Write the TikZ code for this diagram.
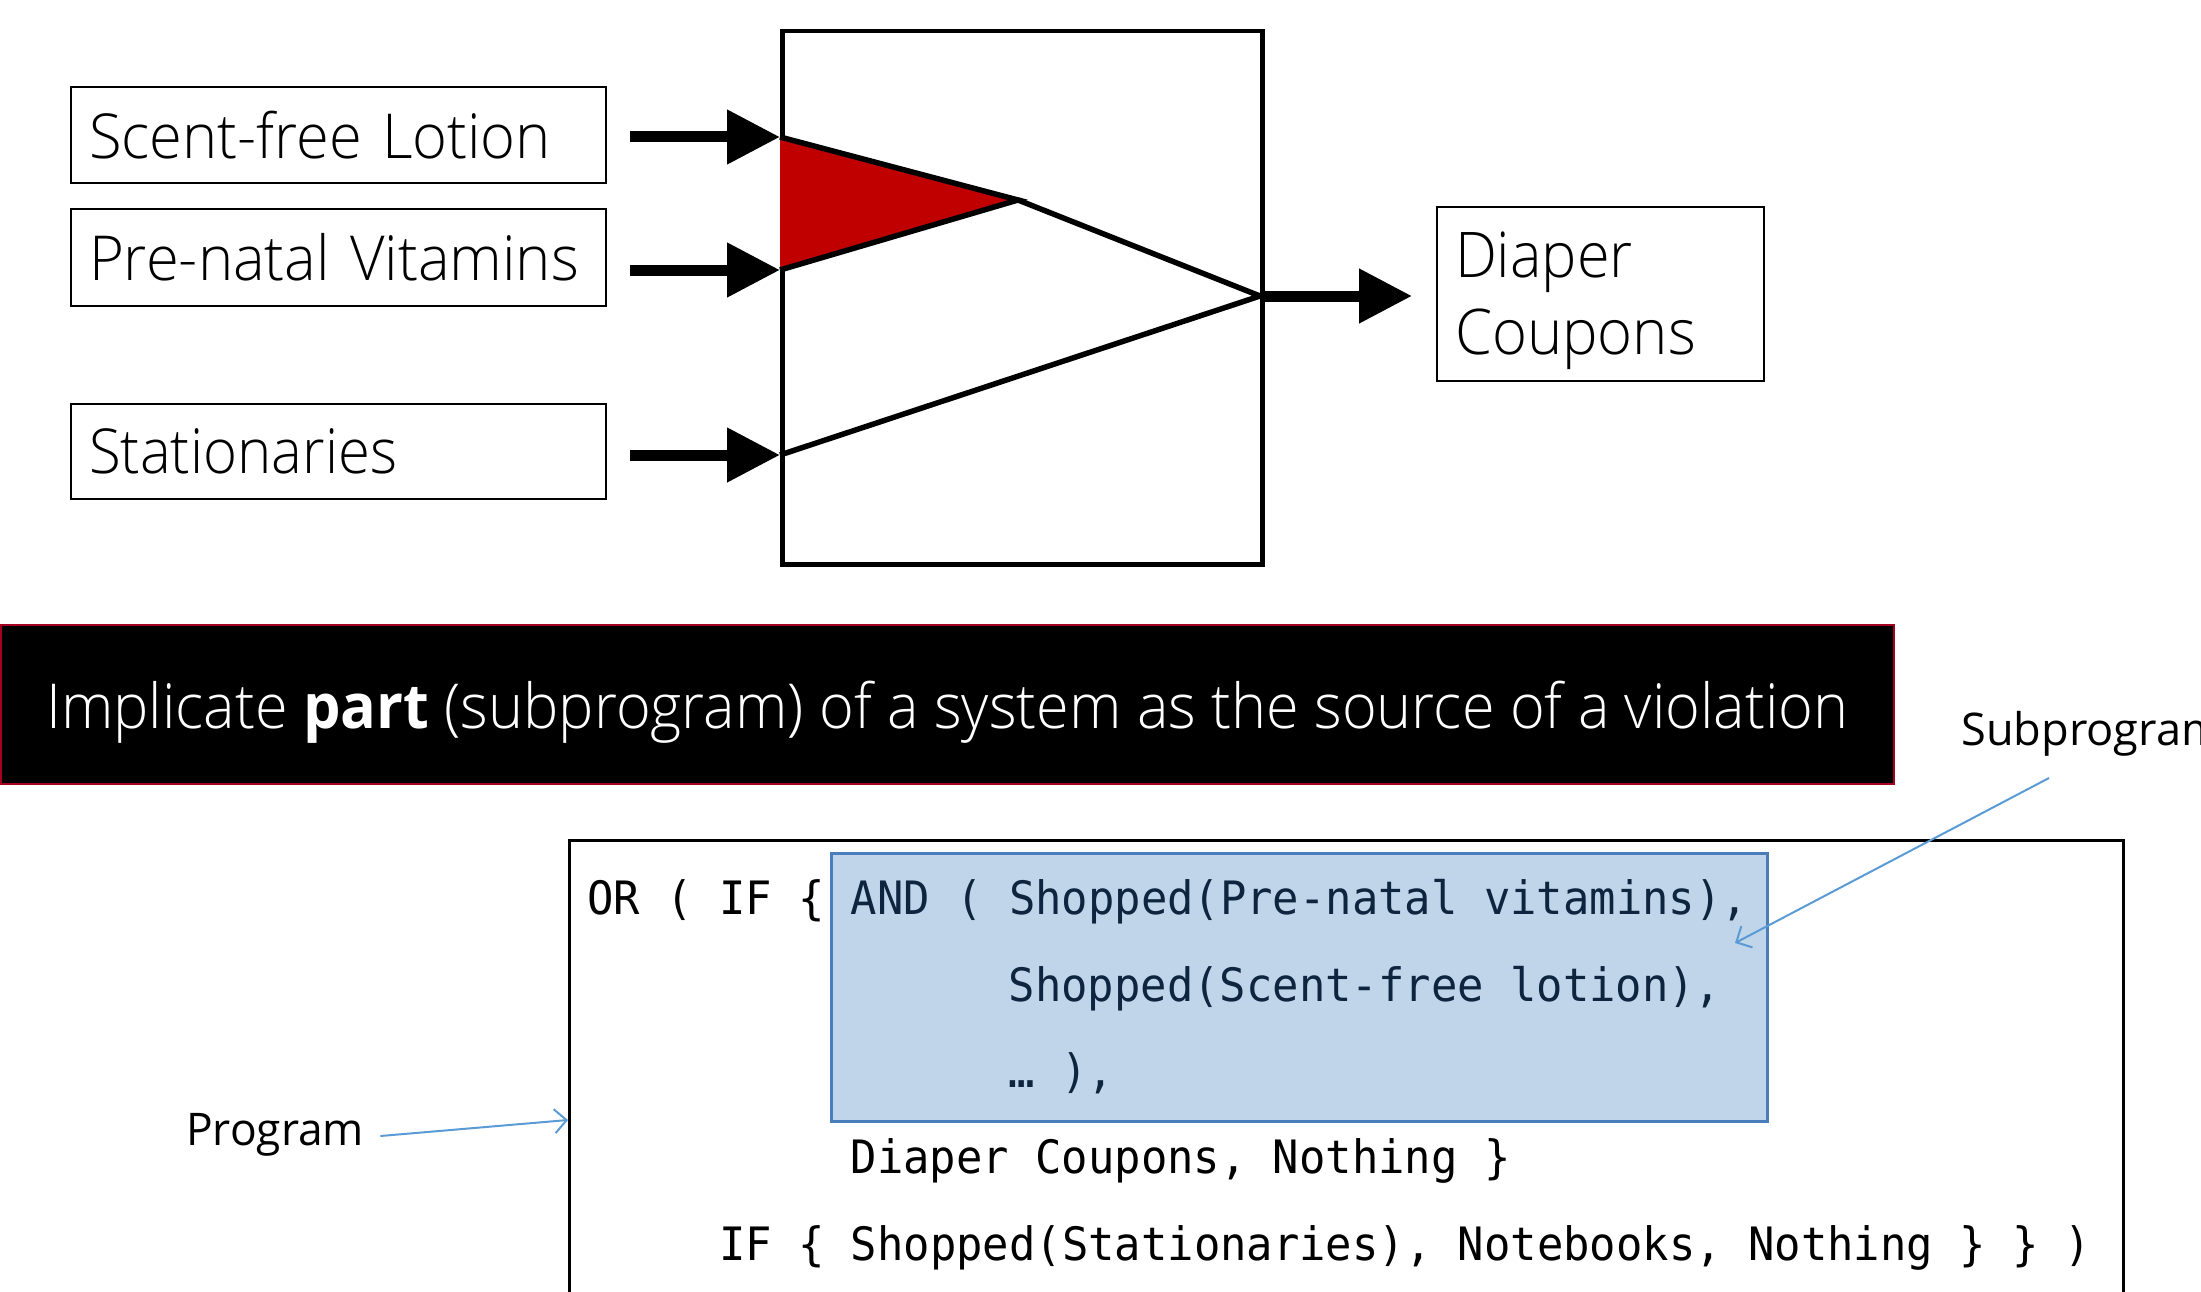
\documentclass[tikz,border=0pt]{standalone}
\usepackage{fontspec}
\usepackage{graphicx}
\usetikzlibrary{arrows.meta,calc}
\setmainfont{Open Sans}
\newfontfamily\thinfont{Open Sans Light}
\newfontfamily\codefont[FakeStretch=0.953]{DejaVu Sans Mono}

\definecolor{gatered}{HTML}{C00000}
\definecolor{bannerred}{HTML}{A50021}
\definecolor{subfill}{HTML}{C0D5EA}
\definecolor{subline}{HTML}{4A7EBB}
\definecolor{subtext}{HTML}{0F243E}
\definecolor{pointblue}{HTML}{5B9BD5}

% scale a piece of text horizontally to a given natural width (in pt)
\newlength\fitlen
\newcommand\fitto[2]{\settowidth\fitlen{#2}\pgfmathsetmacro\fitratio{#1/\fitlen}\scalebox{\fitratio}[1]{#2}}

\begin{document}
\begin{tikzpicture}[x=1pt,y=-1pt,
  lblbox/.style={draw, line width=2pt, anchor=north west, inner xsep=18pt, inner ysep=0pt,
    align=left, font=\thinfont\fontsize{62}{77}\selectfont},
  wire/.style={line width=5.5pt},
  feed/.style={line width=11pt, -{Triangle[length=53pt,width=52pt]}},
  pointer/.style={draw=pointblue, line width=2pt, -{Straight Barb[length=12pt,width=24pt]}},
  codeline/.style={anchor=base west, inner sep=0pt, font=\codefont\fontsize{46}{55}\selectfont\frenchspacing},
  note/.style={anchor=base west, inner sep=0pt, font=\fontsize{45}{54}\selectfont},
]
\useasboundingbox (0,0) rectangle (2201,1292);

% ---- input item boxes
\node[lblbox, minimum width=535pt, minimum height=96pt, text width=499pt] (scent) at (70,86)
  {\fitto{462}{Scent-free Lotion}};
\node[lblbox, minimum width=535pt, minimum height=97pt, text width=499pt] (vitamins) at (70,208)
  {\fitto{490}{Pre-natal Vitamins}};
\node[lblbox, minimum width=535pt, minimum height=95pt, text width=499pt] (stationaries) at (70,403)
  {\fitto{308}{Stationaries}};

% ---- the program block
\node[draw, line width=4.5pt, anchor=north west, minimum width=480pt, minimum height=533pt, inner sep=0pt]
  (block) at (780,29) {};
\coordinate (inA) at (780,137);
\coordinate (inB) at (780,270);
\coordinate (inC) at (780,455);
\coordinate (apex) at (1018,200);
\coordinate (out) at (1260,296);

\fill[gatered] (inA) -- (apex) -- (inB) -- cycle;
\draw[wire] (inA) -- (apex) -- (inB);
\draw[wire] (apex) -- (out) -- (inC);

% ---- output box
\node[lblbox, minimum width=327pt, minimum height=174pt, text width=291pt,
  font=\thinfont\fontsize{63}{77}\selectfont] (diaper) at (1436,206)
  {\raisebox{-7pt}[\height][\depth]{\fitto{178}{Diaper}}\\
   \raisebox{-7pt}[\height][\depth]{\fitto{241}{Coupons}}};

% ---- feeding arrows
\draw[feed] ($(scent.east |- inA)+(23,0)$) -- (inA);
\draw[feed] ($(vitamins.east |- inB)+(23,0)$) -- (inB);
\draw[feed] ($(stationaries.east |- inC)+(23,0)$) -- (inC);
\draw[feed] (out) -- ($(diaper.west |- out)+(-24,0)$);

% ---- headline banner
\node[fill=black, draw=bannerred, line width=1.5pt, anchor=north west, inner sep=0pt,
  minimum width=1893pt, minimum height=159pt] (banner) at (0,624) {};
\node[anchor=base west, inner sep=0pt, text=white, font=\thinfont\fontsize{62}{74}\selectfont] (headline) at (46,728)
  {\fitto{1802}{Implicate {\normalfont\bfseries part} (subprogram) of a system as the source of a violation}};

% ---- program listing
\node[draw, line width=2.5pt, anchor=north west, inner sep=0pt, minimum width=1554pt, minimum height=520pt]
  (prog) at (568,839) {};
\node[draw=subline, fill=subfill, line width=2.5pt, anchor=north west, inner sep=0pt,
  minimum width=936pt, minimum height=268pt] (sub) at (830,852) {};

\node[codeline] (c1a) at (587,914) {OR ( IF \{};
\node[codeline, text=subtext] (c1b) at (850.5,914) {AND ( Shopped(Pre-natal vitamins),};
\node[codeline, text=subtext] (c2) at (1008.6,1001) {Shopped(Scent-free lotion),};
\node[codeline, text=subtext] (c3) at (1008.6,1087) {… ),};
\node[codeline] (c4) at (850.5,1173) {Diaper Coupons, Nothing \}};
\node[codeline] (c5) at (718.8,1260) {IF \{ Shopped(Stationaries), Notebooks, Nothing \} \} )};

% ---- annotations
\node[note] (sublbl) at (1961,745) {\fitto{262}{Subprogram}};
\coordinate (subtip) at (1735,943);
\draw[pointer] ($(sublbl.base west)+(88,33)$) -- (subtip);

\node[note] (proglbl) at (186,1145) {\fitto{178}{Program}};
\coordinate (progtip) at (prog.west |- 0,1120);
\draw[pointer] ($(proglbl.base east)+(16,-9)$) -- (progtip);
\end{tikzpicture}
\end{document}
